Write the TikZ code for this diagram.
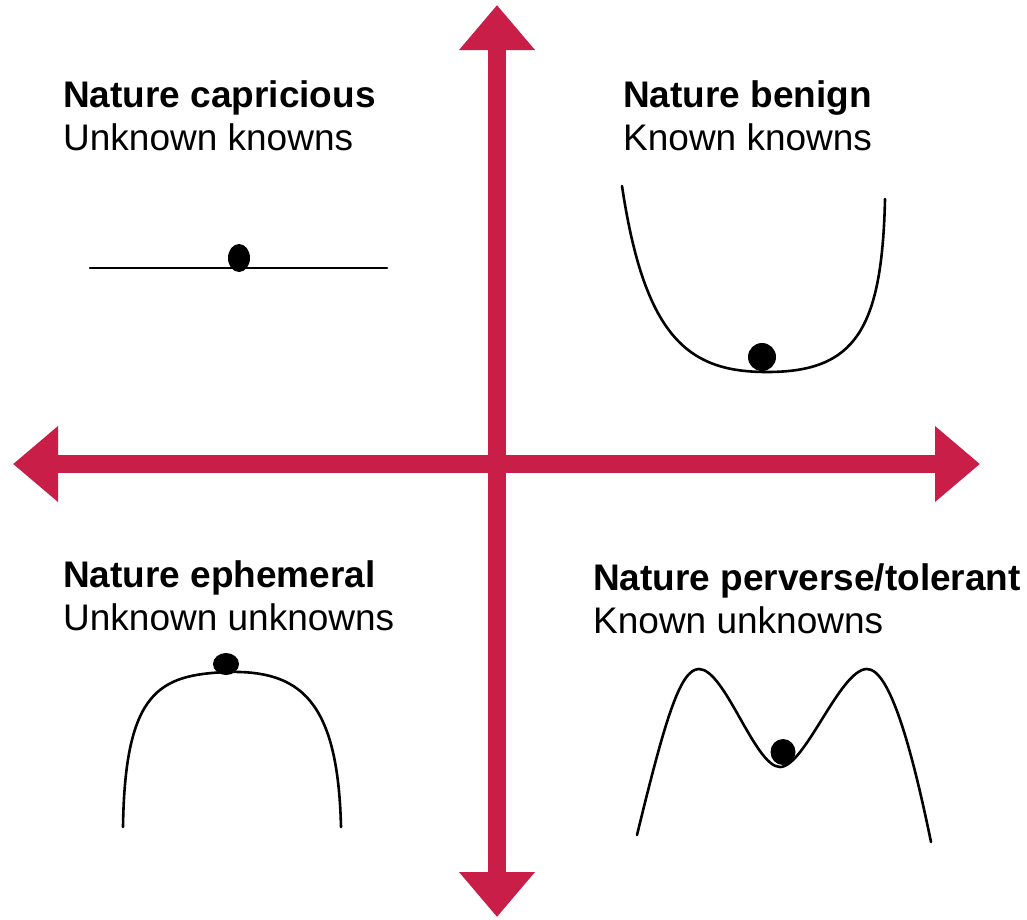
\documentclass[tikz,border=0pt]{standalone}
\usepackage{fontspec}
\setmainfont{Liberation Sans}
\usepackage{xcolor}
\usepackage{tikz}
\usetikzlibrary{arrows.meta,calc}
\definecolor{axisred}{RGB}{201,30,72}

\begin{document}
\begin{tikzpicture}[x=1pt,y=-1pt,
    title/.style={anchor=base west, inner sep=0pt, font=\fontsize{37}{42}\selectfont\bfseries},
    sub/.style={anchor=base west, inner sep=0pt, font=\fontsize{37}{42}\selectfont},
    curve/.style={line width=2.6pt, line cap=round},
    axis/.style={axisred, line width=18pt,
      {Triangle[length=45pt,width=73pt]}-{Triangle[length=45pt,width=73pt]}}]
  \useasboundingbox (0,0) rectangle (1027,919);
  \coordinate (top) at (497,5);
  \coordinate (bottom) at (497,917);
  \coordinate (left) at (13,464);
  \coordinate (right) at (980,464);
  \draw[axis] (left) -- (right);
  \draw[axis] (bottom) -- (top);
  \node[title] (captitle) at (63,107) {Nature capricious};
  \node[sub] (capsub) at ($(captitle.base west)+(0,43)$) {Unknown knowns};
  \node[title] (bentitle) at (623,107) {Nature benign};
  \node[sub] (bensub) at ($(bentitle.base west)+(0,43)$) {Known knowns};
  \node[title] (ephtitle) at (63,587) {Nature ephemeral};
  \node[sub] (ephsub) at ($(ephtitle.base west)+(0,43)$) {Unknown unknowns};
  \node[title] (pertitle) at (593,590) {Nature perverse/tolerant};
  \node[sub] (persub) at ($(pertitle.base west)+(0,43)$) {Known unknowns};
  \draw[curve] (90,268) -- (387,268);
  \fill (239,258) ellipse [x radius=11pt, y radius=14pt];
  \draw[curve] (622,186) .. controls (645,340) and (690,372) .. (767,372)
    .. controls (855,372) and (882,330) .. (885,199);
  \fill (762,357) circle [radius=14pt];
  \draw[curve] (123,827) .. controls (125,690) and (160,675) .. (227,672)
    .. controls (300,670) and (338,700) .. (341,827);
  \fill (226,664) ellipse [x radius=13pt, y radius=11pt];
  \draw[curve] (637,835) .. controls (665,720) and (680,669) .. (699,669)
    .. controls (725,669) and (755,767) .. (780,767)
    .. controls (805,767) and (840,669) .. (867,669)
    .. controls (890,669) and (912,750) .. (931,842);
  \fill (783,752) ellipse [x radius=12.5pt, y radius=13pt];
\end{tikzpicture}
\end{document}
